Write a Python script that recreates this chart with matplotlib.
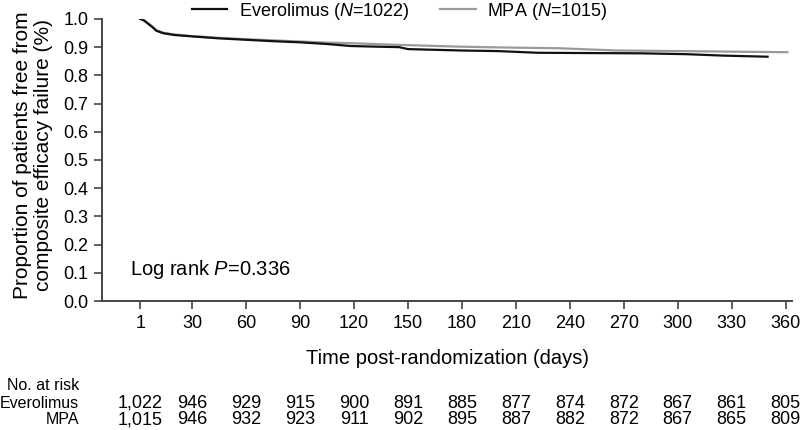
import matplotlib
matplotlib.use('Agg')
import matplotlib.pyplot as plt
import matplotlib.transforms as mtransforms

plt.rcParams['font.family'] = ['Liberation Sans', 'DejaVu Sans']
plt.rcParams['mathtext.fontset'] = 'custom'
plt.rcParams['mathtext.rm'] = 'Liberation Sans'
plt.rcParams['mathtext.it'] = 'Liberation Sans:italic'

# Kaplan-Meier curves
evero_days = [1, 3, 5, 8, 10, 14, 20, 30, 45, 60, 75, 90, 105, 118, 130, 145,
              150, 180, 200, 222, 250, 280, 305, 325, 350]
evero_surv = [1.0, 0.995, 0.985, 0.97, 0.958, 0.949, 0.943, 0.938, 0.931, 0.926,
              0.921, 0.917, 0.911, 0.904, 0.902, 0.900, 0.893, 0.888, 0.886,
              0.880, 0.879, 0.878, 0.875, 0.870, 0.866]

mpa_days = [1, 3, 5, 8, 10, 14, 20, 30, 45, 60, 75, 90, 105, 118, 145, 177,
            200, 234, 246, 266, 300, 330, 361]
mpa_surv = [1.0, 0.996, 0.987, 0.972, 0.96, 0.951, 0.945, 0.939, 0.933, 0.928,
            0.924, 0.92, 0.916, 0.914, 0.908, 0.902, 0.899, 0.896, 0.893, 0.888,
            0.886, 0.884, 0.882]

# Number at risk table
risk_days = [1, 30, 60, 90, 120, 150, 180, 210, 240, 270, 300, 330, 360]
evero_risk = ['1,022', '946', '929', '915', '900', '891', '885', '877', '874',
              '872', '867', '861', '805']
mpa_risk = ['1,015', '946', '932', '923', '911', '902', '895', '887', '882',
            '872', '867', '865', '809']

y_ticks = [0.0, 0.1, 0.2, 0.3, 0.4, 0.5, 0.6, 0.7, 0.8, 0.9, 1.0]

fig = plt.figure(figsize=(8, 4.3), dpi=100)
ax = fig.add_axes([0.128, 0.300, 0.862, 0.656])

ax.plot(mpa_days, mpa_surv, color='#9a9a9a', linewidth=1.6,
        label=r'MPA ($\mathit{N}$=1015)')
ax.plot(evero_days, evero_surv, color='#111111', linewidth=1.6,
        label=r'Everolimus ($\mathit{N}$=1022)')

ax.set_xlim(-20, 363.6)
ax.set_ylim(0, 1.0)
ax.set_xticks(risk_days)
ax.set_yticks(y_ticks)
ax.set_yticklabels(['%.1f' % v for v in y_ticks])
ax.tick_params(labelsize=13, color='#444444', width=1.2, length=6, pad=4)

for side in ['top', 'right']:
    ax.spines[side].set_visible(False)
for side in ['left', 'bottom']:
    ax.spines[side].set_color('#444444')
    ax.spines[side].set_linewidth(1.4)

ax.set_xlabel('Time post-randomization (days)', fontsize=14.5, labelpad=12)
fig.text(0.041, 1 - 155 / 430,
         'Proportion of patients free from\ncomposite efficacy failure (%)',
         rotation=90, ha='center', va='center', multialignment='center',
         fontsize=15, linespacing=1.1)

# p-value, left edge at a fixed spot of the figure
ptrans = mtransforms.blended_transform_factory(fig.transFigure, ax.transData)
ax.text(130 / 800, 0.11, r'Log rank $\mathit{P}$=0.336', fontsize=14.5,
        transform=ptrans, va='center', ha='left')

handles, labels = ax.get_legend_handles_labels()
fig.legend(handles[::-1], labels[::-1], loc='center', ncol=2,
           bbox_to_anchor=(0.50, 1 - 11 / 430), frameon=False, fontsize=13,
           handlelength=1.95, handletextpad=0.65, columnspacing=1.7)

# risk table
trans = mtransforms.blended_transform_factory(ax.transData, fig.transFigure)
fig.text(79 / 800, 1 - 385 / 430, 'No. at risk', ha='right', va='center',
         fontsize=11.5)
fig.text(79 / 800, 1 - 403 / 430, 'Everolimus', ha='right', va='center',
         fontsize=11.5)
fig.text(79 / 800, 1 - 420 / 430, 'MPA', ha='right', va='center',
         fontsize=11.5)
for d, e, m in zip(risk_days, evero_risk, mpa_risk):
    ax.text(d, 1 - 403 / 430, e, transform=trans, ha='center', va='center',
            fontsize=13)
    ax.text(d, 1 - 420 / 430, m, transform=trans, ha='center', va='center',
            fontsize=13)

fig.savefig('out.png', dpi=100)
